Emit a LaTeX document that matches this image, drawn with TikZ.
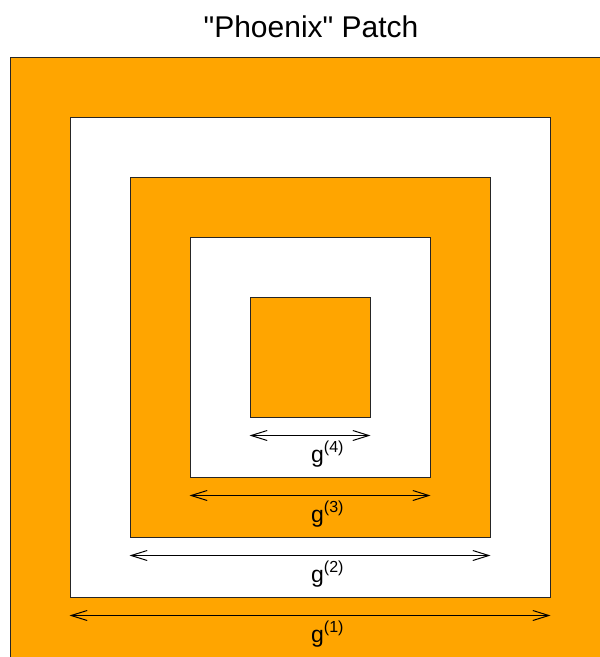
\documentclass[tikz,border=0pt]{standalone}
\usepackage{fontspec}
\setmainfont{Liberation Sans}
\newfontfamily\titlefont{Liberation Sans}[Ligatures=TeXOff]
\usetikzlibrary{arrows.meta, positioning, calc}

\definecolor{patchorange}{HTML}{FFA500}
\newcommand{\glab}[1]{g\raisebox{10pt}{\fontsize{16}{16}\selectfont(#1)}}

\begin{document}
\begin{tikzpicture}[
    x=1pt, y=-1pt,
    ring/.style={rectangle, draw=black!85, line width=1pt, inner sep=0pt, minimum size=#1},
    fullring/.style={ring=#1, fill=patchorange},
    emptyring/.style={ring=#1, fill=white},
    dim/.style={{Straight Barb[length=16pt, width=10pt]}-{Straight Barb[length=16pt, width=10pt]}, line width=1pt, draw=black},
    glabel/.style={anchor=base west, inner sep=0pt, font=\fontsize{23}{23}\selectfont},
    title/.style={anchor=base, inner sep=0pt, font=\titlefont\fontsize{30}{30}\selectfont}
]
\useasboundingbox (0,0) rectangle (600,657);
\node (title) [title] at (311,37) {"Phoenix" Patch};
\node (ring1) [fullring=600] at (310,357) {};
\node (ring2) [emptyring=480] at (310,357) {};
\node (ring3) [fullring=360] at (310,357) {};
\node (ring4) [emptyring=240] at (310,357) {};
\node (ring5) [fullring=120] at (310,357) {};
\coordinate (g1west) at ($(ring2.south west)+(0,18)$);
\coordinate (g1east) at ($(ring2.south east)+(0,18)$);
\coordinate (g2west) at ($(ring3.south west)+(0,18)$);
\coordinate (g2east) at ($(ring3.south east)+(0,18)$);
\coordinate (g3west) at ($(ring4.south west)+(0,18)$);
\coordinate (g3east) at ($(ring4.south east)+(0,18)$);
\coordinate (g4west) at ($(ring5.south west)+(0,18)$);
\coordinate (g4east) at ($(ring5.south east)+(0,18)$);
\draw [dim] (g1west) -- (g1east);
\draw [dim] (g2west) -- (g2east);
\draw [dim] (g3west) -- (g3east);
\draw [dim] (g4west) -- (g4east);
\node (g1) [glabel] at (311,642) {\glab{1}};
\node (g2) [glabel] at (311,582) {\glab{2}};
\node (g3) [glabel] at (311,522) {\glab{3}};
\node (g4) [glabel] at (311,462) {\glab{4}};
\end{tikzpicture}
\end{document}
